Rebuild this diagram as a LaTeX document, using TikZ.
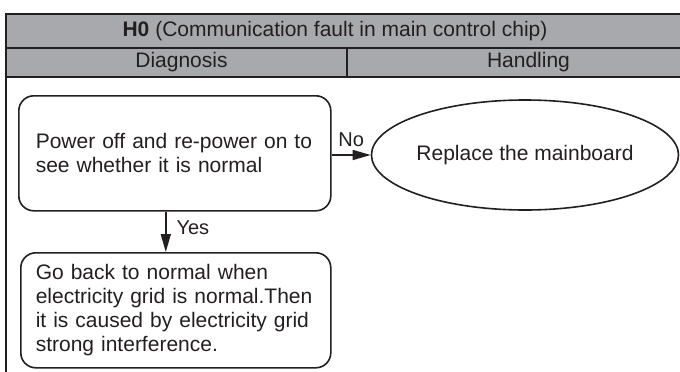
\documentclass[tikz,border=0pt]{standalone}
\usepackage{fontspec}
\setmainfont{Liberation Sans}
\usepackage{tikz}
\usetikzlibrary{arrows.meta, positioning, calc, shapes.geometric}
\usepackage{xcolor}
\definecolor{headgray}{RGB}{167,169,172}
\definecolor{inkgray}{RGB}{35,31,32}

\begin{document}
\begin{tikzpicture}[x=1pt, y=-1pt, line width=1.6pt, draw=inkgray, text=inkgray,
  headtext/.style={inner sep=0pt, font=\fontsize{21}{24}\selectfont},
  stepbox/.style={draw, rounded corners=15pt, align=left, minimum height=115pt,
    font=\fontsize{21}{24}\selectfont},
  endbox/.style={draw, ellipse, inner sep=0pt, font=\fontsize{21}{24}\selectfont},
  flow/.style={-{Triangle[length=18pt, width=10pt]}},
  lbl/.style={inner sep=1pt, font=\fontsize{20}{24}\selectfont}]
  \useasboundingbox (0,0) rectangle (680,372);
  % Header table
  \draw[fill=headgray] (6,14) rectangle (700,77);
  \draw (6,48) -- (700,48);
  \draw (347,48) -- (347,77);
  \draw (6,77) -- (6,373);
  \node[headtext] (title) at (335,31.5) {\textbf{H0} (Communication fault in main control chip)};
  \node[headtext] (diag) at (181.5,62.5) {Diagnosis};
  \node[headtext] (hand) at (528.5,62.5) {Handling};
  % Flow boxes
  \node[stepbox, anchor=north west, text width=278pt, inner xsep=17pt] (check) at (18,95)
    {Power off and re-power on to\\see whether it is normal};
  \node[endbox, minimum width=304pt, minimum height=110pt] (repl) at (525,155)
    {Replace the mainboard};
  \node[stepbox, anchor=north west, text width=280pt, inner xsep=15pt] (grid) at (20,252)
    {Go back to normal when\\electricity grid is normal.Then\\it is caused by electricity grid\\strong interference.};
  % Connectors
  \coordinate (no) at (check.east |- repl.west);
  \draw[flow] (no) -- (repl.west);
  \node[lbl, above right=7pt and 5pt of no] (nolbl) {No};
  \coordinate (yes) at ([xshift=-9pt]check.south);
  \draw[flow] (yes) -- (yes |- grid.north);
  \node[lbl, right=9pt] (yeslbl) at ($(yes)!0.4!(yes |- grid.north)$) {Yes};
\end{tikzpicture}
\end{document}
